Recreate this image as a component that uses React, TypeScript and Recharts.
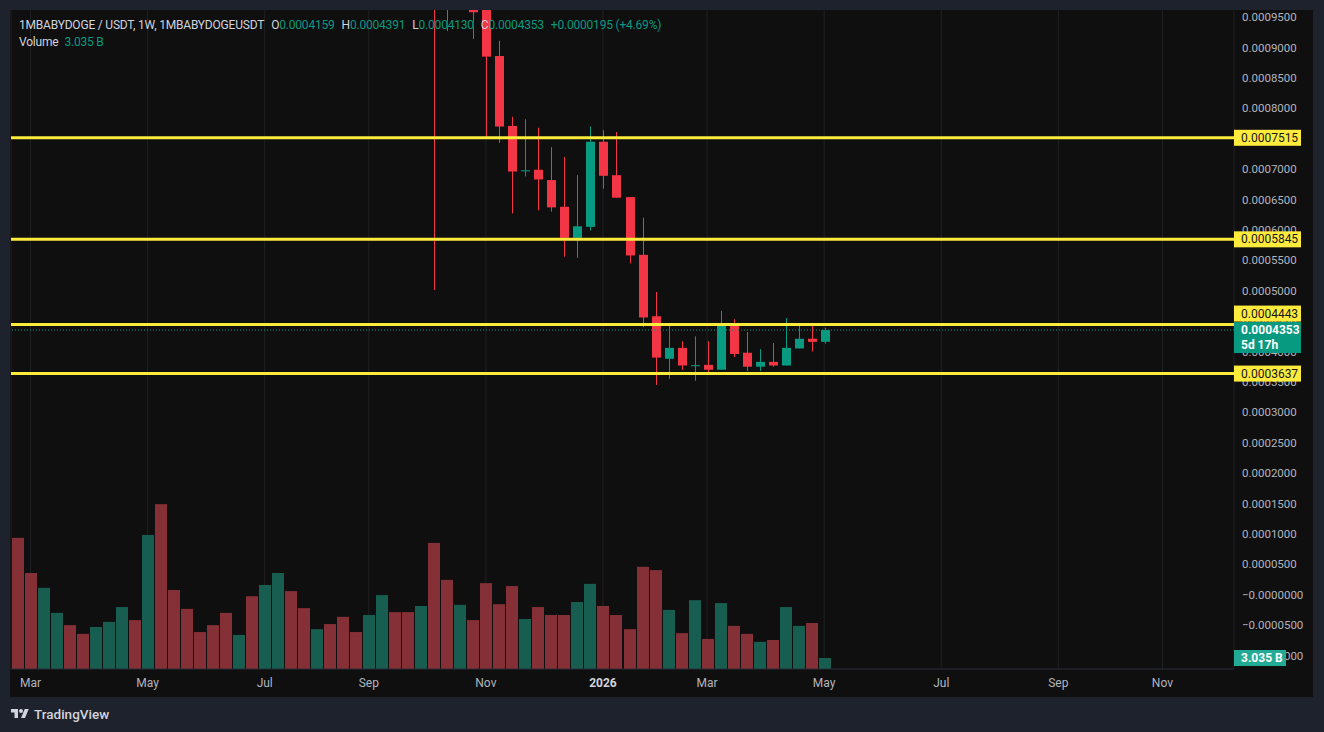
import React from "react";
import { ComposedChart, Bar, XAxis, YAxis, CartesianGrid, ReferenceLine } from "recharts";

// weekly candles, week start dates (last one is the running week)
const dates = [
  "2025-02-24", "2025-03-03", "2025-03-10", "2025-03-17", "2025-03-24", "2025-03-31", "2025-04-07", "2025-04-14",
  "2025-04-21", "2025-04-28", "2025-05-05", "2025-05-12", "2025-05-19", "2025-05-26", "2025-06-02", "2025-06-09",
  "2025-06-16", "2025-06-23", "2025-06-30", "2025-07-07", "2025-07-14", "2025-07-21", "2025-07-28", "2025-08-04",
  "2025-08-11", "2025-08-18", "2025-08-25", "2025-09-01", "2025-09-08", "2025-09-15", "2025-09-22", "2025-09-29",
  "2025-10-06", "2025-10-13", "2025-10-20", "2025-10-27", "2025-11-03", "2025-11-10", "2025-11-17", "2025-11-24",
  "2025-12-01", "2025-12-08", "2025-12-15", "2025-12-22", "2025-12-29", "2026-01-05", "2026-01-12", "2026-01-19",
  "2026-01-26", "2026-02-02", "2026-02-09", "2026-02-16", "2026-02-23", "2026-03-02", "2026-03-09", "2026-03-16",
  "2026-03-23", "2026-03-30", "2026-04-06", "2026-04-13", "2026-04-20", "2026-04-27", "2026-05-04", "2026-05-11",
  "2026-05-18", "2026-05-25", "2026-06-01", "2026-06-08", "2026-06-15", "2026-06-22", "2026-06-29", "2026-07-06",
  "2026-07-13", "2026-07-20", "2026-07-27", "2026-08-03", "2026-08-10", "2026-08-17", "2026-08-24", "2026-08-31",
  "2026-09-07", "2026-09-14", "2026-09-21", "2026-09-28", "2026-10-05", "2026-10-12", "2026-10-19", "2026-10-26",
  "2026-11-02", "2026-11-09", "2026-11-16", "2026-11-23", "2026-11-30", "2026-12-07",
];

// first 32 weeks traded above the visible price range
const N = null;
const opens = [
  N, N, N, N, N, N, N, N, N, N, N, N, N, N, N, N, N, N, N, N, N, N, N, N, N, N, N, N, N, N, N, N,
  0.00125, 0.00105, 0.00099, 0.00101, 0.00097, 0.000886, 0.000771, 0.000697, 0.000699, 0.000682, 0.000638,
  0.000587, 0.000605, 0.000745, 0.00069, 0.000654, 0.000559, 0.000458, 0.000388, 0.000406, 0.000377,
  0.000378, 0.00037, 0.000444, 0.000398, 0.000375, 0.000383, 0.000377, 0.000405, 0.000421, 0.0004159,
];
const highs = [
  N, N, N, N, N, N, N, N, N, N, N, N, N, N, N, N, N, N, N, N, N, N, N, N, N, N, N, N, N, N, N, N,
  0.00135, 0.00112, 0.00108, 0.00104, 0.00099, 0.000911, 0.000786, 0.000782, 0.000768, 0.000736, 0.00072,
  0.00069, 0.00077, 0.000764, 0.000761, 0.000654, 0.00062, 0.000498, 0.000447, 0.000417, 0.000425,
  0.000417, 0.000467, 0.000453, 0.000432, 0.000404, 0.000414, 0.000455, 0.000447, 0.000442, 0.0004391,
];
const lows = [
  N, N, N, N, N, N, N, N, N, N, N, N, N, N, N, N, N, N, N, N, N, N, N, N, N, N, N, N, N, N, N, N,
  0.000501, 0.000927, 0.00097, 0.000914, 0.000751, 0.000743, 0.000627, 0.000688, 0.000632, 0.00063, 0.000556,
  0.000554, 0.000599, 0.000668, 0.000653, 0.000545, 0.00044, 0.000345, 0.000355, 0.00037, 0.000352,
  0.000365, 0.00037, 0.000391, 0.000368, 0.000368, 0.000375, 0.000377, 0.000405, 0.0004, 0.000413,
];
const closes = [
  N, N, N, N, N, N, N, N, N, N, N, N, N, N, N, N, N, N, N, N, N, N, N, N, N, N, N, N, N, N, N, N,
  0.00105, 0.00099, 0.00102, 0.000958, 0.000885, 0.00077, 0.000696, 0.000698, 0.000683, 0.000637, 0.000587,
  0.000606, 0.000745, 0.000689, 0.000653, 0.000558, 0.000456, 0.00039, 0.000406, 0.000377, 0.0003775,
  0.00037, 0.000442, 0.000396, 0.000375, 0.000383, 0.000377, 0.000406, 0.000421, 0.0004158, 0.0004353,
];

// volume in billions, 1 = up week
const volumes = [
  36.2, 26.5, 22.4, 15.5, 12.1, 9.7, 11.6, 13.0, 17.1, 13.5,
  37.0, 45.5, 21.8, 16.6, 10.2, 12.1, 15.5, 9.4, 20.1, 23.2,
  26.5, 21.5, 16.8, 11.0, 12.4, 14.4, 10.2, 14.9, 20.4, 15.7,
  15.7, 17.4, 34.8, 24.6, 17.7, 13.5, 23.7, 17.9, 22.9, 13.8,
  17.1, 14.9, 14.9, 18.5, 23.5, 17.4, 14.9, 11.0, 28.2, 27.3,
  16.3, 9.9, 19.0, 8.3, 18.2, 11.9, 9.7, 7.5, 8.0, 17.1,
  11.9, 12.7, 3.035,
];
const volumeUp = [
  0, 0, 1, 1, 0, 0, 1, 1, 1, 0,
  1, 0, 0, 0, 0, 0, 0, 1, 0, 1,
  1, 0, 0, 1, 0, 0, 0, 1, 1, 0,
  0, 1, 0, 0, 1, 0, 0, 0, 0, 1,
  0, 0, 0, 1, 1, 0, 0, 0, 0, 0,
  1, 0, 1, 0, 1, 0, 0, 1, 0, 1,
  1, 0, 1,
];

const levels = [0.0007515, 0.0005845, 0.0004443, 0.0003637];
const levelShift = [0, 0, -11, 0]; // tag pushed up to clear the last-price tag

const tickDates = [
  "2025-03-03", "2025-05-05", "2025-07-07", "2025-09-01", "2025-11-03", "2026-01-05",
  "2026-03-02", "2026-05-04", "2026-07-06", "2026-09-07", "2026-11-02",
];
const tickNames = ["Mar", "May", "Jul", "Sep", "Nov", "2026", "Mar", "May", "Jul", "Sep", "Nov"];

const priceTicks = [
  -0.0001, -0.00005, 0, 0.00005, 0.0001, 0.00015, 0.0002, 0.00025, 0.0003, 0.00035, 0.0004,
  0.00045, 0.0005, 0.00055, 0.0006, 0.00065, 0.0007, 0.00075, 0.0008, 0.00085, 0.0009, 0.00095,
];

const UP = "#089981";
const DOWN = "#f23645";
const VOL_UP = "#175d50";
const VOL_DOWN = "#853036";
const YELLOW = "#ffeb3b";
const FONT = "Roboto, 'Noto Sans', sans-serif";

const fmtPrice = (v: number) => (v <= 0 ? "\u2212" + Math.abs(v).toFixed(7) : v.toFixed(7));

function Candle(props: any) {
  const { x, y, width, height, payload } = props;
  if (!payload || payload.open == null) return null;
  const { open, high, low, close } = payload;
  const top = Math.min(y, y + height);
  const h = Math.abs(height);
  const k = h / (high - low);
  const color = close >= open ? UP : DOWN;
  const cx = Math.round(x + width / 2) + 0.5;
  const bodyTop = top + (high - Math.max(open, close)) * k;
  const bodyH = Math.max(1, Math.abs(close - open) * k);
  return (
    <g>
      <line x1={cx} x2={cx} y1={top} y2={top + h} stroke={color} strokeWidth={1} />
      <rect x={cx - 4.5} y={bodyTop} width={9} height={bodyH} fill={color} />
    </g>
  );
}

function VolumeBar(props: any) {
  const { x, y, height, payload } = props;
  if (!payload || payload.volume == null) return null;
  return (
    <rect x={Math.round(x)} y={y} width={12} height={height} fill={payload.up ? VOL_UP : VOL_DOWN} />
  );
}

function TimeTick(props: any) {
  const { x, y, payload } = props;
  const label = tickNames[tickDates.indexOf(payload.value)];
  const year = label === "2026";
  return (
    <text x={x} y={y + 10} textAnchor="middle" fontFamily={FONT} fontSize={12}
      fontWeight={year ? 700 : 400} fill={year ? "#d1d4dc" : "#b2b5be"}>
      {label}
    </text>
  );
}

// price scale text, drawn as reference-line labels so the tags can sit on top
function AxisText(props: any) {
  const { viewBox, text } = props;
  if (!viewBox) return null;
  return (
    <text x={viewBox.x + viewBox.width + 8} y={viewBox.y + 4} fontFamily={FONT} fontSize={11.5} fill="#b2b5be">
      {text}
    </text>
  );
}

function PriceTag(props: any) {
  const { viewBox, text, sub, bg, fg, dy = 0, w = 67, bold } = props;
  if (!viewBox) return null;
  const x = viewBox.x + viewBox.width;
  const y = viewBox.y + dy;
  const h = sub ? 31 : 16;
  return (
    <g>
      <rect x={x} y={y - 8} width={w} height={h} fill={bg} />
      <text x={x + 7} y={y + 4} fontFamily={FONT} fontSize={12} fontWeight={bold ? 700 : 400} fill={fg}>
        {text}
      </text>
      {sub && (
        <text x={x + 7} y={y + 19} fontFamily={FONT} fontSize={12} fontWeight={700} fill={fg}>
          {sub}
        </text>
      )}
    </g>
  );
}

function TvLogo() {
  return (
    <div style={{ position: "absolute", left: 10, top: 706, display: "flex", alignItems: "center", gap: 4 }}>
      <svg width="20" height="14" viewBox="0 0 36 28">
        <path d="M14 22H7V11H0V4h14v18Z" fill="#d1d4dc" />
        <circle cx="20" cy="8" r="4" fill="#d1d4dc" />
        <path d="M28 22h-8l7.5-18h8L28 22Z" fill="#d1d4dc" />
      </svg>
      <span style={{ color: "#d1d4dc", fontSize: 13.5, fontWeight: 500, fontFamily: FONT }}>TradingView</span>
    </div>
  );
}

export default function App() {
  const data = dates.map((date, i) => ({
    date,
    open: opens[i] ?? null,
    high: highs[i] ?? null,
    low: lows[i] ?? null,
    close: closes[i] ?? null,
    volume: volumes[i] ?? null,
    up: volumeUp[i] === 1,
  }));

  const last = volumes.length - 1;
  const o = opens[last] as number;
  const hi = highs[last] as number;
  const lo = lows[last] as number;
  const c = closes[last] as number;
  const prev = closes[last - 1] as number;
  const chg = c - prev;
  const pct = (chg / prev) * 100;

  const gray = { color: "#d1d4dc" };
  const teal = { color: UP };

  return (
    <div style={{ position: "absolute", left: 0, top: 0, width: 1324, height: 732, background: "#1e222d", fontFamily: FONT }}>
      <div style={{ position: "absolute", left: 10, top: 10, width: 1303, height: 687, background: "#0f0f0f" }}>
        <ComposedChart width={1303} height={687} data={data} margin={{ top: 0, right: 0, bottom: 0, left: 1 }}>
          <CartesianGrid stroke="#202124" horizontalValues={priceTicks} />
          <XAxis dataKey="date" ticks={tickDates} interval={0} tick={<TimeTick />} tickLine={false}
            axisLine={{ stroke: "#2a2e39" }} height={28} />
          <XAxis xAxisId="c" dataKey="date" hide />
          <YAxis orientation="right" width={79} domain={[-0.0001222, 0.0009617]} allowDataOverflow
            ticks={priceTicks} interval={0} tick={false} tickLine={false} axisLine={false} />
          <YAxis yAxisId="vol" hide domain={[0, 181.9]} />
          <Bar dataKey="volume" yAxisId="vol" barSize={12} shape={<VolumeBar />} isAnimationActive={false} />
          <Bar xAxisId="c" dataKey={(d: any) => (d.low == null ? null : [d.low, d.high])} barSize={12}
            shape={<Candle />} isAnimationActive={false} />
          {priceTicks.map((t) => (
            <ReferenceLine key={`t${t}`} y={t} stroke="none" label={<AxisText text={fmtPrice(t)} />} />
          ))}
          {levels.map((lv, i) => (
            <ReferenceLine key={lv} y={lv} stroke={YELLOW} strokeWidth={3}
              label={<PriceTag text={lv.toFixed(7)} bg={YELLOW} fg="#131722" dy={levelShift[i]} />} />
          ))}
          <ReferenceLine y={c} stroke={UP} strokeWidth={1} strokeDasharray="1 2"
            label={<PriceTag text={c.toFixed(7)} sub="5d 17h" bg={UP} fg="#ffffff" bold />} />
          <ReferenceLine yAxisId="vol" y={volumes[last]} stroke="none"
            label={<PriceTag text={`${volumes[last]} B`} bg="#22ab94" fg="#ffffff" w={52} bold />} />
        </ComposedChart>
      </div>

      <div style={{ position: "absolute", left: 19, top: 17, fontSize: 12, letterSpacing: -0.2, lineHeight: "17px", whiteSpace: "nowrap" }}>
        <div>
          <span style={gray}>1MBABYDOGE / USDT, 1W, 1MBABYDOGEUSDT</span>
          <span style={{ ...gray, marginLeft: 7 }}>O</span><span style={teal}>{o.toFixed(7)}</span>
          <span style={{ ...gray, marginLeft: 7 }}>H</span><span style={teal}>{hi.toFixed(7)}</span>
          <span style={{ ...gray, marginLeft: 7 }}>L</span><span style={teal}>{lo.toFixed(7)}</span>
          <span style={{ ...gray, marginLeft: 7 }}>C</span><span style={teal}>{c.toFixed(7)}</span>
          <span style={{ ...teal, marginLeft: 7 }}>
            +{chg.toFixed(7)} (+{pct.toFixed(2)}%)
          </span>
        </div>
        <div>
          <span style={gray}>Volume</span>
          <span style={{ ...teal, marginLeft: 6 }}>{volumes[last]} B</span>
        </div>
      </div>

      <TvLogo />
    </div>
  );
}
